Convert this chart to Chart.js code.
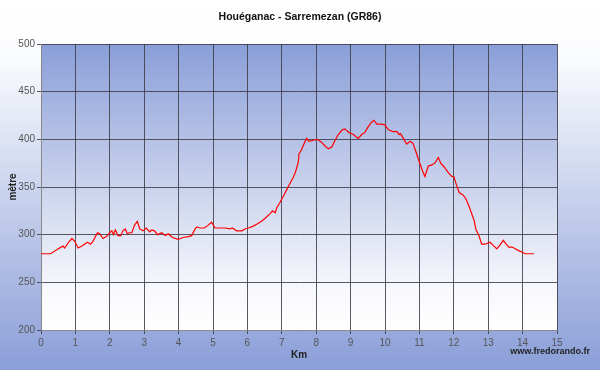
<!DOCTYPE html>
<html>
<head>
<meta charset="utf-8">
<script src="https://cdn.jsdelivr.net/npm/chart.js@4.4.1/dist/chart.umd.min.js"></script>
<style>
  html, body { margin: 0; padding: 0; background: #fff; }
  #wrap { width: 600px; height: 370px; }
</style>
</head>
<body>
<div id="wrap"><canvas id="chart" width="600" height="370"></canvas></div>
<script>
const chartTitle = "Houéganac - Sarremezan (GR86)";
const siteText = "www.fredorando.fr";

const km = [0, 0.28, 0.49, 0.64, 0.69, 0.80, 0.90, 0.98, 1.08, 1.19, 1.35, 1.44, 1.51, 1.64, 1.71, 1.80, 1.90,
  2.00, 2.06, 2.11, 2.16, 2.24, 2.32, 2.38, 2.45, 2.51, 2.57, 2.64, 2.72, 2.80, 2.87, 2.97, 3.06, 3.16, 3.22,
  3.30, 3.39, 3.51, 3.61, 3.70, 3.82, 3.99, 4.13, 4.28, 4.38, 4.48, 4.53, 4.62, 4.75, 4.86, 4.96, 5.06, 5.20,
  5.35, 5.50, 5.56, 5.69, 5.84, 5.93, 6.03, 6.17, 6.27, 6.41, 6.51, 6.66, 6.73, 6.81, 6.85, 6.95, 7.04, 7.14,
  7.24, 7.33, 7.40, 7.48, 7.50, 7.56, 7.63, 7.72, 7.79, 7.92, 8.04, 8.15, 8.26, 8.35, 8.45, 8.55, 8.64, 8.76,
  8.83, 8.93, 8.96, 9.08, 9.22, 9.32, 9.41, 9.51, 9.61, 9.68, 9.76, 9.90, 10.00, 10.10, 10.24, 10.35, 10.41,
  10.45, 10.55, 10.63, 10.73, 10.81, 10.90, 11.00, 11.10, 11.16, 11.26, 11.35, 11.45, 11.55, 11.62, 11.72,
  11.84, 11.94, 12.00, 12.08, 12.16, 12.26, 12.35, 12.45, 12.52, 12.59, 12.64, 12.74, 12.81, 12.91, 13.05,
  13.14, 13.25, 13.34, 13.44, 13.52, 13.60, 13.70, 13.80, 13.90, 13.97, 14.07, 14.33];

const altitude = [280, 280, 285, 288, 286, 292, 296, 293, 286, 288, 292, 290, 293, 302, 301, 296, 298,
  302, 304, 300, 305, 299, 299, 304, 306, 301, 302, 302, 310, 314, 306, 304, 307, 303, 305,
  304, 300, 302, 299, 301, 297, 295, 297, 298, 299, 306, 308, 307, 307, 310, 313, 307, 307,
  307, 306, 307, 304, 304, 306, 307, 309, 311, 314, 317, 322, 325, 323, 328, 334, 340, 347,
  354, 360, 366, 376, 385, 388, 394, 401, 398, 399, 400, 397, 393, 390, 392, 399, 405, 410,
  411, 408, 407, 405, 401, 405, 407, 413, 418, 420, 416, 416, 415, 410, 408, 408, 405,
  406, 400, 395, 398, 396, 387, 376, 366, 361, 372, 373, 375, 381, 375, 371,
  365, 361, 361, 352, 344, 342, 338, 329, 322, 315, 306, 298, 290, 290, 292,
  289, 285, 289, 294, 290, 287, 287, 285, 283, 282, 280, 280];

const yTicks = { min: 200, max: 500, step: 50 };
const xTicks = { min: 0, max: 15, step: 1 };

const points = km.map((k, i) => ({ x: k, y: altitude[i] }));

// backgrounds + site text
const decor = {
  id: "decor",
  beforeDraw(chart) {
    const { ctx, width, height, chartArea: a } = chart;
    ctx.save();
    let g = ctx.createLinearGradient(0, 0, 0, height);
    g.addColorStop(0, "#ffffff");
    g.addColorStop(0.15, "#fbfcfe");
    g.addColorStop(1, "#8a9ed8");
    ctx.fillStyle = g;
    ctx.fillRect(0, 0, width, height);
    g = ctx.createLinearGradient(0, a.top, 0, a.bottom);
    g.addColorStop(0, "#8a9ed8");
    g.addColorStop(0.85, "#f7f8fc");
    g.addColorStop(1, "#ffffff");
    ctx.fillStyle = g;
    ctx.fillRect(a.left, a.top, a.right - a.left, a.bottom - a.top);
    ctx.restore();
  },
  afterDraw(chart) {
    const { ctx } = chart;
    ctx.save();
    ctx.font = "bold 9px 'Liberation Sans', Arial, sans-serif";
    ctx.fillStyle = "#222";
    ctx.textAlign = "right";
    ctx.textBaseline = "middle";
    ctx.fillText(siteText, 590, 352);
    ctx.restore();
  }
};

const gridCol = "rgba(60,60,70,0.85)";
const font = "'Liberation Sans', Arial, sans-serif";

new Chart(document.getElementById("chart"), {
  type: "line",
  data: {
    datasets: [{
      data: points,
      borderColor: "#ff0000",
      borderWidth: 1.2,
      pointRadius: 0,
      tension: 0,
      fill: false
    }]
  },
  options: {
    responsive: false,
    animation: false,
    layout: { padding: 0 },
    plugins: {
      legend: { display: false },
      tooltip: { enabled: false },
      title: {
        display: true,
        text: chartTitle,
        color: "#111",
        font: { family: font, size: 10.5, weight: "bold" },
        padding: { top: 11, bottom: 20.4 }
      }
    },
    scales: {
      x: {
        type: "linear",
        min: xTicks.min,
        max: xTicks.max,
        afterFit(s) { s.height = 40; },
        ticks: {
          stepSize: xTicks.step,
          color: "#555",
          padding: 3,
          maxRotation: 0,
          font: { family: font, size: 10 }
        },
        grid: { color: gridCol, lineWidth: 1, tickLength: 4 },
        border: { color: "#888", width: 1 },
        title: {
          display: true,
          text: "Km",
          color: "#222",
          font: { family: font, size: 10, weight: "bold" },
          padding: { top: 0, bottom: 9 }
        }
      },
      y: {
        min: yTicks.min,
        max: yTicks.max,
        afterFit(s) { s.width = 41; },
        ticks: {
          stepSize: yTicks.step,
          color: "#555",
          padding: 2,
          font: { family: font, size: 10 }
        },
        grid: { color: gridCol, lineWidth: 1, tickLength: 4 },
        border: { color: "#888", width: 1 },
        title: {
          display: true,
          text: "mètre",
          color: "#222",
          font: { family: font, size: 10, weight: "bold" },
          padding: { top: 7, bottom: 0 }
        }
      },
      // empty right margin so the title is centred on the whole page
      yRight: {
        position: "right",
        min: yTicks.min,
        max: yTicks.max,
        afterFit(s) { s.width = 43; },
        ticks: { display: false },
        grid: { display: false, drawTicks: false },
        border: { display: false }
      }
    }
  },
  plugins: [decor]
});
</script>
</body>
</html>
